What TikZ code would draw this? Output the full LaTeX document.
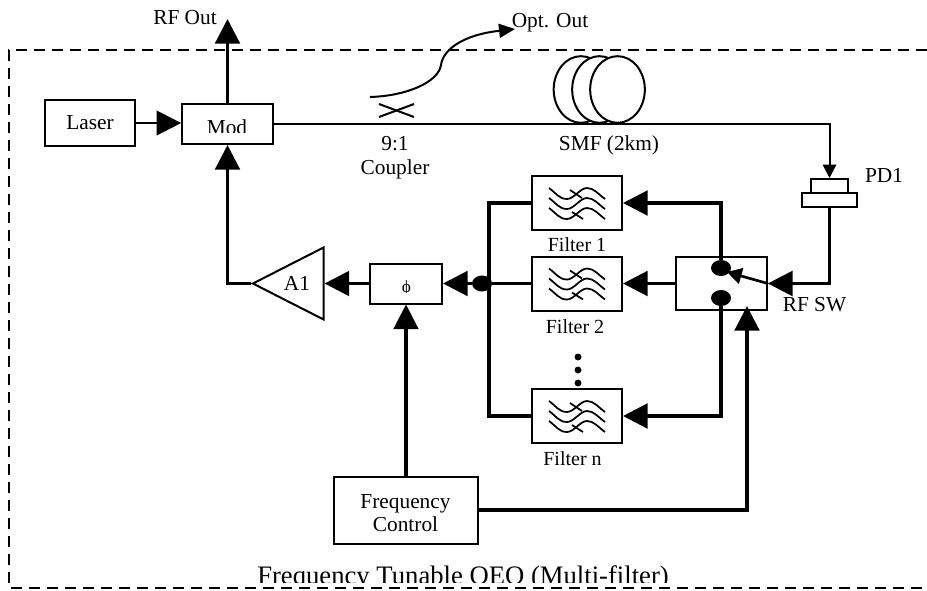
\documentclass[tikz,border=0pt]{standalone}
\usepackage{fontspec}
\setmainfont{Liberation Serif}
\usetikzlibrary{positioning}
\usetikzlibrary{arrows.meta, shapes.geometric, calc}

\newcommand{\filterwaves}[1]{%
    \foreach \dy in {-15,-5,5} {
        \draw[thin line] ($(#1)+(-28,\dy)$) .. controls +(7,5) and +(-8,0) .. ($(#1)+(-10,\dy+11)$) .. controls +(7,0) and +(-7,0) .. ($(#1)+(10,\dy)$) .. controls +(7,0) and +(-7,-5) .. ($(#1)+(28,\dy+11)$);
    }
    \draw[thin line] ($(#1)+(-7,-13)$) -- ($(#1)+(5,-5)$);
    \draw[thin line] ($(#1)+(-5,9)$) -- ($(#1)+(6,16)$);
}

\begin{document}
\begin{tikzpicture}[x=0.75pt, y=-0.75pt, >={Triangle[length=18.5pt,width=18.5pt]}, font=\fontsize{16pt}{18pt}\selectfont]%

            \tikzstyle{box} = [ rectangle, draw = black, line width = 1.5pt, fill = white, inner sep = 0pt, align = center]
            \tikzstyle{post} = [ draw = black, line width = 2.4pt, ->]
            \tikzstyle{wire} = [ draw = black, line width = 2.4pt]
            \tikzstyle{fibre} = [ draw = black, line width = 1.5pt]
            \tikzstyle{thin line} = [ draw = black, line width = 1.3pt]
            \tikzstyle{spool} = [ ellipse, draw = black, line width = 1.5pt, fill = white, minimum width = 41pt, minimum height = 50pt, inner sep = 0pt]
            \tikzstyle{joint} = [ ellipse, fill = black, minimum width = 15pt, minimum height = 12pt, inner sep = 0pt]
            \tikzstyle{filterbox} = [ box, minimum width = 67.5pt, minimum height = 40.5pt]
            \tikzstyle{txt} = [ inner sep = 0pt]
            \tikzstyle{filtertxt} = [ txt, font = \fontsize{15pt}{17pt}\selectfont]
        %
            \useasboundingbox (0,0) rectangle (927,590);
            %% Outer frame
            \coordinate (frame_tr) at (927,50);
            \coordinate (frame_tl) at (9,50);
            \coordinate (frame_bl) at (9,588);
            \coordinate (frame_br) at (927,588);
            \draw[line width = 2.2pt, dash pattern = on 8.5pt off 5pt] (frame_tr) -- (frame_tl) -- (frame_bl) -- (frame_br);

            %% Optical path
            \node [box, minimum width = 67.5pt, minimum height = 34.5pt] (laser) at (90,123) {};
            \node [txt] (laser_txt) at (90,123) {Laser};
            \node [box, minimum width = 68pt, minimum height = 30pt] (mod) at (227.5,124) {};
            \begin{scope}
                \clip (182,100) rectangle (273,132.7);
                \node [txt, anchor = base] (mod_txt) at (227,134) {Mod};
            \end{scope}
            \node [spool] (spool_a) at (581,89.5) {};
            \node [spool] (spool_b) at (599.5,89.5) {};
            \node [spool] (spool_c) at (617.5,89.5) {};
            \node [box, minimum width = 28pt, minimum height = 10.5pt] (pd_top) at (829.5,186) {};
            \node [box, minimum width = 41pt, minimum height = 10.5pt] (pd_bot) at (829.5,200) {};
            \coordinate (bend_pd) at (pd_top.north |- mod.east);
            \draw[post, line width = 1.5pt, >={Triangle[length=10pt,width=10pt]}] (mod.east) -- (bend_pd) -- (pd_top.north);
            \draw[post, line width = 1.7pt] (laser.east) -- (laser.east -| mod.west);

            %% Coupler
            \coordinate (cross_a) at (379,104);
            \coordinate (cross_b) at (414,117);
            \coordinate (cross_c) at (379,117);
            \coordinate (cross_d) at (414,104);
            \coordinate (tap_in) at (370,97);
            \coordinate (tap_out) at (515,29);
            \draw[fibre] (cross_a) -- (cross_b);
            \draw[fibre] (cross_c) -- (cross_d);
            \draw[fibre, ->, >={Triangle[length=12pt,width=10.5pt]}] (tap_in) .. controls (405,96) and (438,83) .. (441,65) .. controls (443,50) and (462,35) .. (tap_out);

            %% Filter bank
            \node [filterbox] (filter_1) at (577,203) {};
            \node [filterbox] (filter_2) at (577,283.5) {};
            \node [filterbox] (filter_n) at (577,416) {};
            \filterwaves{filter_1}
            \filterwaves{filter_2}
            \filterwaves{filter_n}
            \node [box, minimum width = 68pt, minimum height = 40pt] (rf_sw) at (721.5,283.5) {};
            \node [joint] (sw_top) at (721,268) {};
            \node [joint] (sw_bot) at (721,298) {};
            \node [joint] (bus_dot) at (482,283.5) {};
            \coordinate (bus_top) at (489,203);
            \coordinate (bus_bot) at (489,416);
            \coordinate (sw_top_bend) at (721,203);
            \coordinate (sw_bot_bend) at (721,416);

            \draw[wire] (filter_1.west) -- (bus_top) -- (bus_bot) -- (filter_n.west);
            \draw[wire] (filter_2.west) -- (bus_dot);
            \draw[post] (sw_top) -- (sw_top_bend) -- (filter_1.east);
            \draw[post] (rf_sw.west) -- (filter_2.east);
            \draw[post] (sw_bot) -- (sw_bot_bend) -- (filter_n.east);

            %% Loop
            \node [box, minimum width = 54pt, minimum height = 30pt] (phase) at (406,283.5) {};
            \begin{scope}
                \clip (370,263) rectangle (442,292);
                \node [txt, anchor = base, font = \fontsize{13pt}{15pt}\selectfont] (phase_txt) at (406.5,292) {ϕ};
            \end{scope}
            \node [draw = black, line width = 1.5pt, isosceles triangle, isosceles triangle apex angle = 54, shape border rotate = 180, minimum height = 53pt, minimum width = 49pt, inner sep = 0pt] (amp) at (301.5,283.5) {};
            \node [txt] (amp_txt) at (297,283) {A1};
            \coordinate (amp_bend) at (mod.south |- amp.apex);
            \draw[post] (bus_dot) -- (phase.east);
            \draw[post] (phase.west) -- (amp.east);
            \draw[post] (amp.apex) -- (amp_bend) -- (mod.south);
            \coordinate (rf_out) at (mod.north |- 0,19);
            \draw[post] (mod.north) -- (rf_out);

            %% PD to switch
            \coordinate (pd_bend) at (pd_bot.south |- rf_sw.east);
            \draw[post] (pd_bot.south) -- (pd_bend) -- (rf_sw.east);
            \draw[line width = 2pt, ->, >={Triangle[length=11pt,width=12pt]}] (rf_sw.east) -- (727,272);

            %% Control
            \node [box, minimum width = 108pt, minimum height = 50pt] (freq) at (406,510.5) {};
            \node [txt, align = center, font = \fontsize{16pt}{17.5pt}\selectfont] (freq_txt) at (405.5,513) {Frequency\\Control};
            \coordinate (ctl_bend) at (747,510);
            \coordinate (ctl_tip) at (747,306);
            \draw[post] (freq.north) -- (phase.south);
            \draw[post] (freq.east |- ctl_bend) -- (ctl_bend) -- (ctl_tip);

            %% Dots
            \foreach \y/\n in {357/a, 370/b, 383/c} {
                \node [circle, fill = black, minimum size = 5.2pt, inner sep = 0pt] (dot_\n) at (578,\y) {};
            }

            %% Labels
            \node [txt] (rf_out_txt) at (185,18) {RF Out};
            \node [txt] (opt_txt) at (550,23) {Opt. Out};
            \node [txt, align = center] (coupler_txt) at (395,158) {9:1\\Coupler};
            \node [txt] (smf_txt) at (609,145) {SMF (2km)};
            \node [txt] (pd_txt) at (884,175) {PD1};
            \node [filtertxt] (f1_txt) at (577,245) {Filter 1};
            \node [filtertxt] (f2_txt) at (575,327) {Filter 2};
            \node [filtertxt] (fn_txt) at (572.5,459) {Filter n};
            \node [txt] (sw_txt) at (814.5,305) {RF SW};
            \begin{scope}
                \clip (240,555) rectangle (680,582.5);
                \node [txt, anchor = base west, font = \fontsize{20pt}{22pt}\selectfont] (title_txt) at (257,584) {Frequency Tunable OEO (Multi-filter)};
            \end{scope}
\end{tikzpicture}
\end{document}
